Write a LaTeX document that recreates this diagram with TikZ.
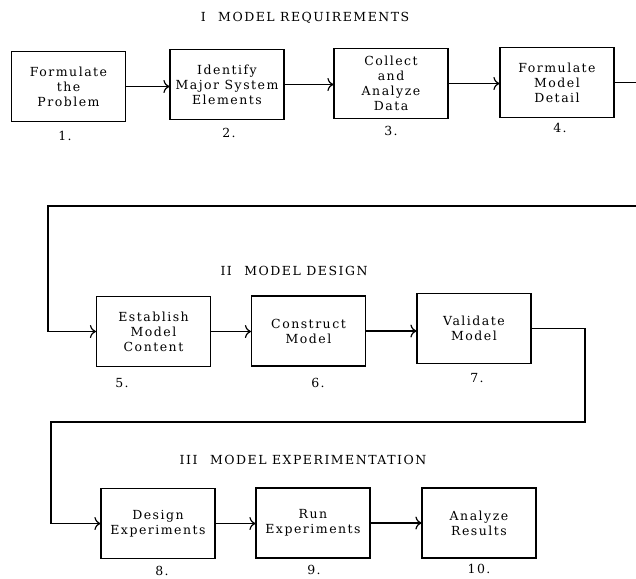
\documentclass[tikz,border=0pt]{standalone}
\usepackage{fontspec}
\setmainfont{DejaVu Serif}[LetterSpace = 12]
\usetikzlibrary{arrows.meta}

\begin{document}
\begin{tikzpicture}[x = 1pt, y = -1pt,
        every node/.style = {font = \fontsize{12.5}{15}\selectfont},
        box/.style = {draw, line width = 1.2pt, minimum width = 114pt, minimum height = 70pt, inner sep = 2pt, align = center},
        flow/.style = {line width = 1.2pt, -{Computer Modern Rightarrow[length = 6pt, width = 13pt]}},
        head/.style = {anchor = base},
        num/.style = {anchor = base}]
    \useasboundingbox (0, 0) rectangle (636, 578);
    \clip (0, 0) rectangle (636, 578);
    \draw
        node [head] (H1) at (305, 22) {I\quad MODEL REQUIREMENTS}
        node [box] (B1) at (68.5, 86.5) {Formulate\\the\\Problem}
        node [box] (B2) at (227, 84.5) {Identify\\Major System\\Elements}
        node [box] (B3) at (391, 83.5) {Collect\\and\\Analyze\\Data}
        node [box] (B4) at (557, 82.5) {Formulate\\Model\\Detail}
        node [num] (N1) at (65, 140.5) {1.}
        node [num] (N2) at (229, 137.5) {2.}
        node [num] (N3) at (391, 135.5) {3.}
        node [num] (N4) at (560, 132.5) {4.};
    \draw
        node [head] (H2) at (294, 275.5) {II\quad MODEL DESIGN}
        node [box] (B5) at (153.5, 331.5) {Establish\\Model\\Content}
        node [box] (B6) at (308.5, 331) {Construct\\Model}
        node [box] (B7) at (474, 328.5) {Validate\\Model}
        node [num] (N5) at (122, 387.5) {5.}
        node [num] (N6) at (318, 387.5) {6.}
        node [num] (N7) at (477, 382.5) {7.};
    \draw
        node [head] (H3) at (303, 464.5) {III\quad MODEL EXPERIMENTATION}
        node [box] (B8) at (158, 523.5) {Design\\Experiments}
        node [box] (B9) at (313, 523) {Run\\Experiments}
        node [box] (B10) at (479, 523) {Analyze\\Results}
        node [num] (N8) at (162, 575) {8.}
        node [num] (N9) at (314, 574.5) {9.}
        node [num] (N10) at (479, 573) {10.};
    \coordinate (R1) at (650, 83);
    \coordinate (L1) at (48, 206);
    \coordinate (R2) at (585, 422);
    \coordinate (L2) at (51, 422);
    \draw [flow] (B1.east) -- (B1.east -| B2.west);
    \draw [flow] (B2.east) -- (B2.east -| B3.west);
    \draw [flow] (B3.east) -- (B3.east -| B4.west);
    \draw [flow] (B4.east) -- (R1 |- B4.east) |- (L1) |- (B5.west);
    \draw [flow] (B5.east) -- (B5.east -| B6.west);
    \draw [flow] (B6.east) -- (B6.east -| B7.west);
    \draw [flow] (B7.east) -| (R2) -- (L2) |- (B8.west);
    \draw [flow] (B8.east) -- (B8.east -| B9.west);
    \draw [flow] (B9.east) -- (B9.east -| B10.west);
\end{tikzpicture}
\end{document}
